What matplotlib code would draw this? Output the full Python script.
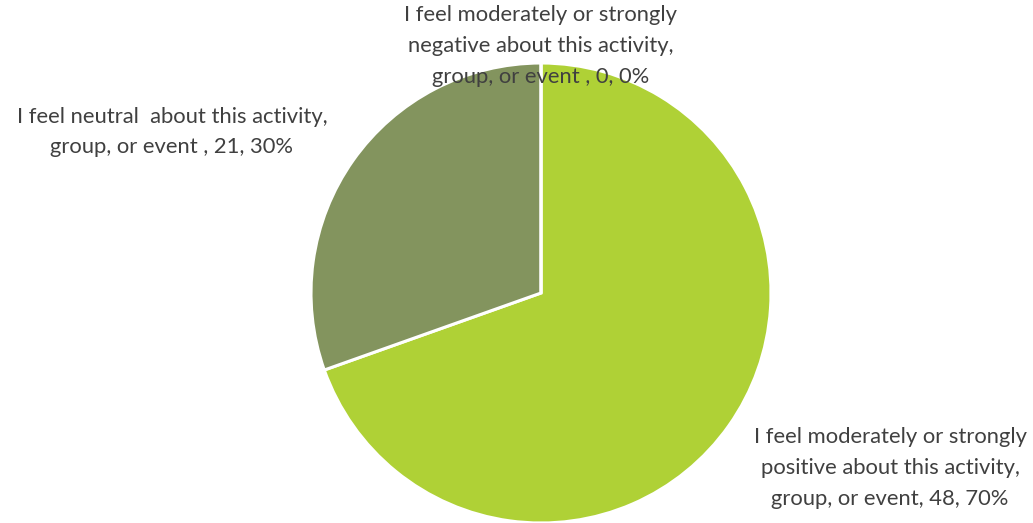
import matplotlib.pyplot as plt

categories = ['I feel moderately or strongly\npositive about this activity,\ngroup, or event',
              'I feel neutral  about this activity,\ngroup, or event ',
              'I feel moderately or strongly\nnegative about this activity,\ngroup, or event ']
counts = [48, 21, 0]
colors = ['#AFD136', '#83945E', '#5B6B3A']

total = sum(counts)
fig = plt.figure(figsize=(10.33, 5.23), dpi=100)
ax = fig.add_axes([311/1033, 0, 460/1033, 460/523])
ax.pie(counts, colors=colors, startangle=90, counterclock=False,
       wedgeprops=dict(edgecolor='white', linewidth=2.2))
ax.set_xlim(-1, 1)
ax.set_ylim(-1, 1)
ax.set_aspect('auto')

# label positions in figure pixels (centre of text block)
label_pos = [(890, 468), (172, 132), (541, 46)]
for cat, n, (px, py) in zip(categories, counts, label_pos):
    pct = round(100 * n / total)
    fig.text(px / 1033, 1 - py / 523, f'{cat}, {n}, {pct}%', ha='center', va='center',
             fontsize=15.8, color='#404040', family='Lato', linespacing=1.68)

fig.savefig('out.png', dpi=100)
